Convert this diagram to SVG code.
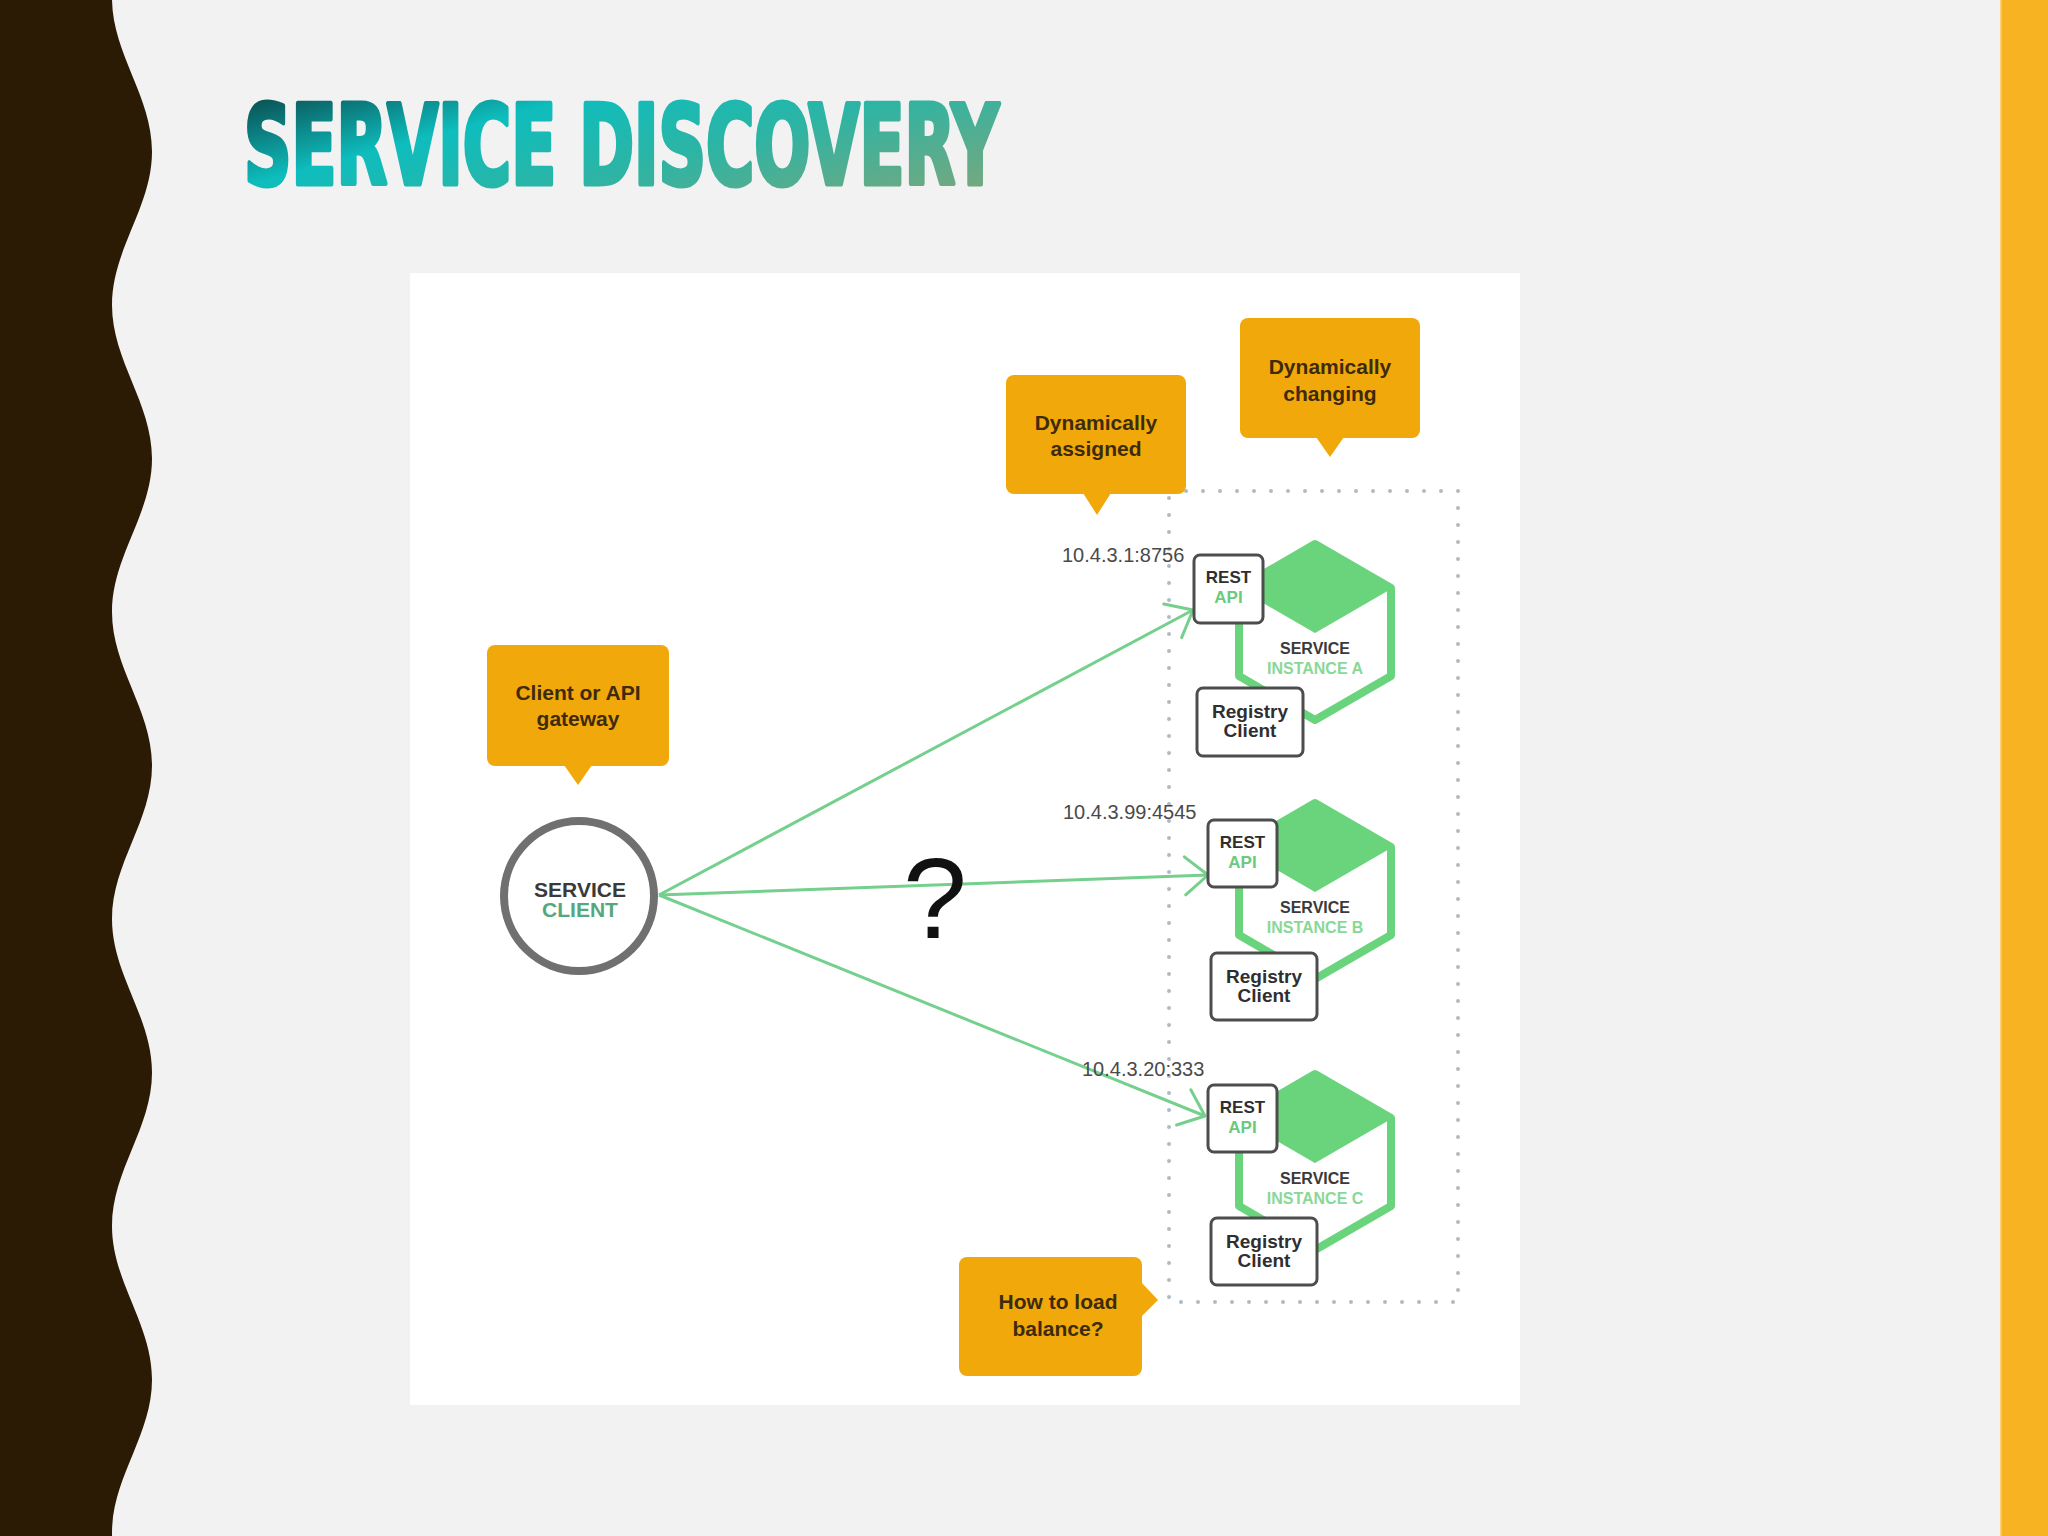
<svg xmlns="http://www.w3.org/2000/svg" width="2048" height="1536" viewBox="0 0 2048 1536">
  <defs>
    <linearGradient id="titleGrad" gradientUnits="userSpaceOnUse" x1="243" y1="100" x2="315" y2="369">
      <stop offset="0" stop-color="#0A4F52"/>
      <stop offset="0.3" stop-color="#0EBDBD"/>
      <stop offset="0.6" stop-color="#2DB4A4"/>
      <stop offset="1" stop-color="#76A87E"/>
    </linearGradient>
    <marker id="openArrow" markerUnits="userSpaceOnUse" viewBox="-30 -25 35 50" markerWidth="35" markerHeight="50" refX="0" refY="0" orient="auto" overflow="visible">
      <path d="M-23,-19 L0,0 L-23,19" fill="none" stroke="#74D08C" stroke-width="3" stroke-linecap="round" stroke-linejoin="round"/>
    </marker>
    <style>
      .callout { fill: #F1A80A; }
      .callout-text { font-family: "Liberation Sans", Arial, sans-serif; font-weight: bold; font-size: 21px; fill: #3D2B0C; text-anchor: middle; }
      .box { fill: #FFFFFF; stroke: #4D4D4D; stroke-width: 3; }
      .box-text { font-family: "Liberation Sans", Arial, sans-serif; font-weight: bold; fill: #2F2F2F; text-anchor: middle; }
      .api-text { font-family: "Liberation Sans", Arial, sans-serif; font-weight: bold; fill: #6CC97E; text-anchor: middle; font-size: 17px; }
      .hex { fill: #FFFFFF; stroke: #6AD47D; stroke-width: 8; stroke-linejoin: round; }
      .hex-top { fill: #6AD47D; stroke: #6AD47D; stroke-width: 2; stroke-linejoin: round; }
      .hex-title { font-family: "Liberation Sans", Arial, sans-serif; font-weight: bold; font-size: 16px; fill: #3A3A3A; text-anchor: middle; }
      .hex-sub { font-family: "Liberation Sans", Arial, sans-serif; font-weight: bold; font-size: 16px; fill: #8AD896; text-anchor: middle; }
      .ip { font-family: "Liberation Sans", Arial, sans-serif; font-size: 20px; fill: #4A4A4A; }
      .conn { stroke: #74D08C; stroke-width: 3; fill: none; marker-end: url(#openArrow); }
    </style>
  </defs>

  <!-- slide background -->
  <rect x="0" y="0" width="2048" height="1536" fill="#F2F2F3"/>
  <rect x="2000" y="0" width="48" height="1536" fill="#F8B323"/>
  <rect x="2000" y="0" width="1.5" height="1536" fill="#FBD27A"/>
  <path d="M0,-2 L112,-2 C112,53.8 152,95.7 152,151.5 C152,207.3 112,249.2 112,305 C112,360.8 152,402.7 152,458.5 C152,514.3 112,556.2 112,612 C112,667.8 152,709.7 152,765.5 C152,821.3 112,863.2 112,919 C112,974.8 152,1016.7 152,1072.5 C152,1128.3 112,1170.2 112,1226 C112,1281.8 152,1323.7 152,1379.5 C152,1435.3 112,1477.2 112,1533 C112,1588.8 152,1630.7 152,1686.5 L0,1686.5 Z" fill="#2B1A04"/>

  <!-- title -->
  <text id="title" x="244" y="184" textLength="755" lengthAdjust="spacingAndGlyphs" font-family="'DejaVu Sans Condensed', 'DejaVu Sans', sans-serif" font-weight="bold" font-size="111" fill="url(#titleGrad)" stroke="url(#titleGrad)" stroke-width="5" stroke-linejoin="round">SERVICE DISCOVERY</text>

  <!-- diagram panel -->
  <rect x="410" y="273" width="1110" height="1132" fill="#FFFFFF"/>

  <!-- dotted boundary -->
  <path id="instances-boundary" d="M1169,491 L1458,491 L1458,1302 L1169,1302 Z" fill="none" stroke="#B0BAC4" stroke-width="4" stroke-linecap="round" stroke-dasharray="0 17"/>

  <!-- connectors -->
  <g id="connectors">
    <line class="conn" x1="659" y1="895" x2="1193" y2="610"/>
    <line class="conn" x1="659" y1="895" x2="1208" y2="875"/>
    <line class="conn" x1="659" y1="895" x2="1205" y2="1116"/>
    <text x="935" y="938" text-anchor="middle" font-family="'Liberation Sans', Arial, sans-serif" font-size="115" fill="#111111">?</text>
  </g>

  <!-- service client -->
  <g id="service-client">
    <circle cx="579" cy="896" r="75" fill="#FFFFFF" stroke="#707070" stroke-width="8"/>
    <text x="580" y="897" text-anchor="middle" font-family="'Liberation Sans', Arial, sans-serif" font-weight="bold" font-size="21" fill="#3A3A3A">SERVICE</text>
    <text x="580" y="917" text-anchor="middle" font-family="'Liberation Sans', Arial, sans-serif" font-weight="bold" font-size="21" fill="#55A87E">CLIENT</text>
  </g>

  <!-- callouts -->
  <g id="callout-client">
    <rect class="callout" x="487" y="645" width="182" height="121" rx="8"/>
    <polygon class="callout" points="564,765 592,765 578,785"/>
    <text class="callout-text" x="578" y="700">Client or API</text>
    <text class="callout-text" x="578" y="726">gateway</text>
  </g>
  <g id="callout-assigned">
    <rect class="callout" x="1006" y="375" width="180" height="119" rx="8"/>
    <polygon class="callout" points="1083,493 1111,493 1097,515"/>
    <text class="callout-text" x="1096" y="430">Dynamically</text>
    <text class="callout-text" x="1096" y="456">assigned</text>
  </g>
  <g id="callout-changing">
    <rect class="callout" x="1240" y="318" width="180" height="120" rx="8"/>
    <polygon class="callout" points="1316,437 1344,437 1330,457"/>
    <text class="callout-text" x="1330" y="374">Dynamically</text>
    <text class="callout-text" x="1330" y="401">changing</text>
  </g>
  <g id="callout-loadbalance">
    <rect class="callout" x="959" y="1257" width="183" height="119" rx="8"/>
    <polygon class="callout" points="1141,1282 1141,1317 1158,1300"/>
    <text class="callout-text" x="1058" y="1309">How to load</text>
    <text class="callout-text" x="1058" y="1336">balance?</text>
  </g>

  <!-- instance A -->
  <g id="instance-a">
    <polygon class="hex" points="1315,544 1391,588 1391,676 1315,720 1239,676 1239,588"/>
    <polygon class="hex-top" points="1315,544 1391,588 1315,632 1239,588"/>
    <text class="hex-title" x="1315" y="654">SERVICE</text>
    <text class="hex-sub" x="1315" y="674">INSTANCE A</text>
    <rect class="box" x="1194" y="555" width="69" height="68" rx="6"/>
    <text class="box-text" x="1228.5" y="583" font-size="17">REST</text>
    <text class="api-text" x="1228.5" y="603">API</text>
    <rect class="box" x="1197" y="688" width="106" height="68" rx="6"/>
    <text class="box-text" x="1250" y="718" font-size="19">Registry</text>
    <text class="box-text" x="1250" y="737" font-size="19">Client</text>
    <text class="ip" x="1062" y="562">10.4.3.1:8756</text>
  </g>

  <!-- instance B -->
  <g id="instance-b">
    <polygon class="hex" points="1315,803 1391,847 1391,935 1315,979 1239,935 1239,847"/>
    <polygon class="hex-top" points="1315,803 1391,847 1315,891 1239,847"/>
    <text class="hex-title" x="1315" y="913">SERVICE</text>
    <text class="hex-sub" x="1315" y="933">INSTANCE B</text>
    <rect class="box" x="1208" y="820" width="69" height="67" rx="6"/>
    <text class="box-text" x="1242.5" y="848" font-size="17">REST</text>
    <text class="api-text" x="1242.5" y="868">API</text>
    <rect class="box" x="1211" y="953" width="106" height="67" rx="6"/>
    <text class="box-text" x="1264" y="983" font-size="19">Registry</text>
    <text class="box-text" x="1264" y="1002" font-size="19">Client</text>
    <text class="ip" x="1063" y="819">10.4.3.99:4545</text>
  </g>

  <!-- instance C -->
  <g id="instance-c">
    <polygon class="hex" points="1315,1074 1391,1118 1391,1206 1315,1250 1239,1206 1239,1118"/>
    <polygon class="hex-top" points="1315,1074 1391,1118 1315,1162 1239,1118"/>
    <text class="hex-title" x="1315" y="1184">SERVICE</text>
    <text class="hex-sub" x="1315" y="1204">INSTANCE C</text>
    <rect class="box" x="1208" y="1085" width="69" height="67" rx="6"/>
    <text class="box-text" x="1242.5" y="1113" font-size="17">REST</text>
    <text class="api-text" x="1242.5" y="1133">API</text>
    <rect class="box" x="1211" y="1218" width="106" height="67" rx="6"/>
    <text class="box-text" x="1264" y="1248" font-size="19">Registry</text>
    <text class="box-text" x="1264" y="1267" font-size="19">Client</text>
    <text class="ip" x="1082" y="1076">10.4.3.20:333</text>
  </g>
</svg>
